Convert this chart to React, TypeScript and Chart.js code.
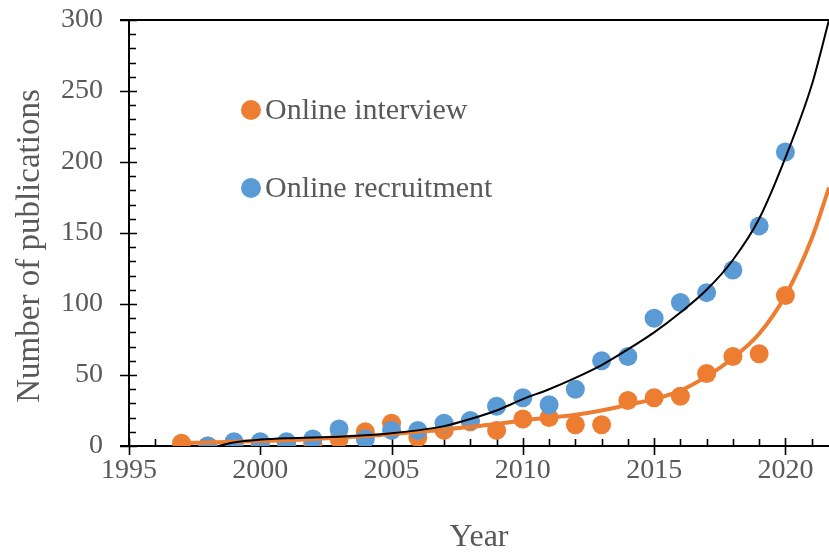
import React, { useEffect, useRef } from "react";
import { Chart, registerables } from "chart.js";

Chart.register(...registerables);

// ---- data ----
const years = [1997, 1998, 1999, 2000, 2001, 2002, 2003, 2004, 2005, 2006, 2007, 2008, 2009, 2010, 2011, 2012, 2013, 2014, 2015, 2016, 2017, 2018, 2019, 2020];
const interviewCounts = [2, 0, 1, 1, 1, 2, 5, 10, 16, 6, 11, 17, 11, 19, 20, 15, 15, 32, 34, 35, 51, 63, 65, 106];
const recruitmentCounts = [null, 0, 3, 3, 3, 5, 12, 5, 11, 11, 16, 18, 28, 34, 29, 40, 60, 63, 90, 101, 108, 124, 155, 207];

const interviewTrendYears = [1997, 1998, 1999, 2000, 2001, 2002, 2003, 2004, 2005, 2006, 2007, 2008, 2009, 2010, 2011, 2012, 2013, 2014, 2015, 2016, 2017, 2018, 2019, 2020, 2021, 2021.66];
const interviewTrendValues = [2, 2.5, 3, 3.5, 4, 5, 6, 7, 8.5, 10, 11.5, 13.5, 15.5, 18, 20, 22, 25, 29, 33, 39, 49, 62, 79, 106, 146, 182];

const recruitmentTrendYears = [1998.4, 1999, 2000, 2001, 2002, 2003, 2004, 2005, 2006, 2007, 2008, 2009, 2010, 2011, 2012, 2013, 2014, 2015, 2016, 2017, 2018, 2019, 2020, 2021, 2021.66];
const recruitmentTrendValues = [0, 2.5, 4.5, 5.5, 6, 6.5, 7.5, 9, 11, 14, 19, 25, 33, 40, 48, 57, 68, 80, 94, 110, 131, 160, 203, 254, 300];

const seriesLabels = ["Online interview", "Online recruitment"];
const xMin = 1995;
const xMax = 2021.66;
const yMin = 0;
const yMax = 300;
const xMajorStep = 5;
const xMinorStep = 1;
const yMajorStep = 50;
const yMinorStep = 10;
const yTitle = "Number of publications";
const xTitle = "Year";

// ---- styles ----
const ORANGE = "#ED7D31";
const BLUE = "#5B9BD5";
const GRAY = "#595959";
const FONT = "'Liberation Serif', 'Times New Roman', serif";

const excelAxes = {
  id: "excelAxes",
  beforeDatasetsDraw(chart: any) {
    const { ctx, chartArea } = chart;
    const xs = chart.scales.x;
    const ys = chart.scales.y;
    const left = chartArea.left;
    const bottom = chartArea.bottom;
    const top = chartArea.top;
    const right = chartArea.right;
    ctx.save();
    ctx.strokeStyle = "#000";
    ctx.lineWidth = 2;
    ctx.lineCap = "butt";
    ctx.beginPath();
    ctx.moveTo(left, top);
    ctx.lineTo(left, bottom);
    ctx.moveTo(left - 9, bottom);
    ctx.lineTo(right, bottom);
    ctx.moveTo(left - 9, top);
    ctx.lineTo(right, top);
    ctx.stroke();

    ctx.lineWidth = 1.6;
    ctx.beginPath();
    for (let v = yMin; v <= yMax + 0.001; v += yMinorStep) {
      const py = Math.round(ys.getPixelForValue(v)) + 0.5;
      if (v % yMajorStep === 0) {
        ctx.moveTo(left - 9, py);
        ctx.lineTo(left + 8, py);
      } else {
        ctx.moveTo(left, py);
        ctx.lineTo(left + 7, py);
      }
    }
    for (let v = xMin; v <= xMax + 0.001; v += xMinorStep) {
      const px = Math.round(xs.getPixelForValue(v)) + 0.5;
      if ((v - xMin) % xMajorStep === 0) {
        ctx.moveTo(px, bottom - 8);
        ctx.lineTo(px, bottom + 9);
      } else {
        ctx.moveTo(px, bottom - 7);
        ctx.lineTo(px, bottom);
      }
    }
    ctx.stroke();

    // y-axis title (drawn here so it can sit slightly below centre, as in the reference)
    ctx.save();
    ctx.translate(30, (top + bottom) / 2 + 13);
    ctx.rotate(-Math.PI / 2);
    ctx.fillStyle = GRAY;
    ctx.font = `33px ${FONT}`;
    ctx.textAlign = "center";
    ctx.textBaseline = "middle";
    ctx.fillText(yTitle, 0, 0);
    ctx.restore();

    ctx.restore();
  },
  afterDraw(chart: any) {
    const { ctx, chartArea } = chart;
    const entries = [
      { label: chart.data.datasets[0].label, color: ORANGE },
      { label: chart.data.datasets[1].label, color: BLUE },
    ];
    ctx.save();
    const mx = chartArea.left + 122;
    const baseY = chartArea.top + 90;
    entries.forEach((e, i) => {
      const cy = baseY + i * 78;
      ctx.fillStyle = e.color;
      ctx.beginPath();
      ctx.arc(mx, cy, 10, 0, Math.PI * 2);
      ctx.fill();
      ctx.fillStyle = GRAY;
      ctx.font = `30px ${FONT}`;
      ctx.textBaseline = "middle";
      ctx.textAlign = "left";
      ctx.fillText(e.label, mx + 14, cy + 1);
    });
    ctx.restore();
  },
};

export default function App() {
  const ref = useRef<HTMLCanvasElement | null>(null);

  useEffect(() => {
    if (!ref.current) return;
    const chart = new Chart(ref.current, {
      type: "scatter",
      data: {
        datasets: [
          {
            label: seriesLabels[0],
            data: years.map((y, i) => ({ x: y, y: interviewCounts[i] })),
            backgroundColor: ORANGE,
            borderColor: ORANGE,
            borderWidth: 0,
            pointRadius: 9.5,
            order: 4,
          },
          {
            label: seriesLabels[1],
            data: years
              .map((y, i) => ({ x: y, y: recruitmentCounts[i] }))
              .filter((p) => p.y !== null),
            backgroundColor: BLUE,
            borderColor: BLUE,
            borderWidth: 0,
            pointRadius: 9.5,
            order: 3,
          },
          {
            type: "line",
            label: "Interview trend",
            data: interviewTrendYears.map((y, i) => ({ x: y, y: interviewTrendValues[i] })),
            borderColor: ORANGE,
            borderWidth: 4,
            pointRadius: 0,
            showLine: true,
            fill: false,
            cubicInterpolationMode: "monotone",
            order: 2,
          },
          {
            type: "line",
            label: "Recruitment trend",
            data: recruitmentTrendYears.map((y, i) => ({ x: y, y: recruitmentTrendValues[i] })),
            borderColor: "#000000",
            borderWidth: 2,
            pointRadius: 0,
            showLine: true,
            fill: false,
            cubicInterpolationMode: "monotone",
            order: 1,
          },
        ] as any,
      },
      options: {
        animation: false,
        responsive: false,
        maintainAspectRatio: false,
        layout: { autoPadding: false, padding: { top: 20, right: 0, left: 0, bottom: 0 } },
        plugins: {
          legend: { display: false },
          tooltip: { enabled: false },
        },
        scales: {
          x: {
            type: "linear",
            min: xMin,
            max: xMax,
            grid: { display: false, drawTicks: false },
            border: { display: false },
            ticks: {
              stepSize: xMajorStep,
              includeBounds: false,
              padding: 8,
              color: GRAY,
              font: { family: FONT, size: 28 },
              callback: (v: any) => String(v),
            },
            title: {
              display: true,
              text: xTitle,
              color: GRAY,
              font: { family: FONT, size: 32, lineHeight: 1 },
              padding: { top: 0, bottom: 0 },
            },
            afterFit: (s: any) => {
              s.height = 108;
              s.paddingLeft = 0;
              s.paddingRight = 0;
              s.paddingTop = 0;
              s.paddingBottom = 0;
            },
          },
          y: {
            type: "linear",
            min: yMin,
            max: yMax,
            grid: { display: false, drawTicks: false },
            border: { display: false },
            ticks: {
              stepSize: yMajorStep,
              padding: 26,
              color: GRAY,
              font: { family: FONT, size: 28 },
              callback: (v: any) => String(v),
            },
            title: { display: false, text: yTitle },
            afterFit: (s: any) => {
              s.width = 129;
              s.paddingLeft = 0;
              s.paddingRight = 0;
              s.paddingTop = 0;
              s.paddingBottom = 0;
            },
          },
        },
      } as any,
      plugins: [excelAxes],
    });
    return () => chart.destroy();
  }, []);

  return (
    <div style={{ position: "absolute", left: 0, top: 0, width: 829, height: 554, overflow: "hidden", background: "#fff" }}>
      <canvas ref={ref} width={829} height={554} style={{ display: "block" }} />
    </div>
  );
}
